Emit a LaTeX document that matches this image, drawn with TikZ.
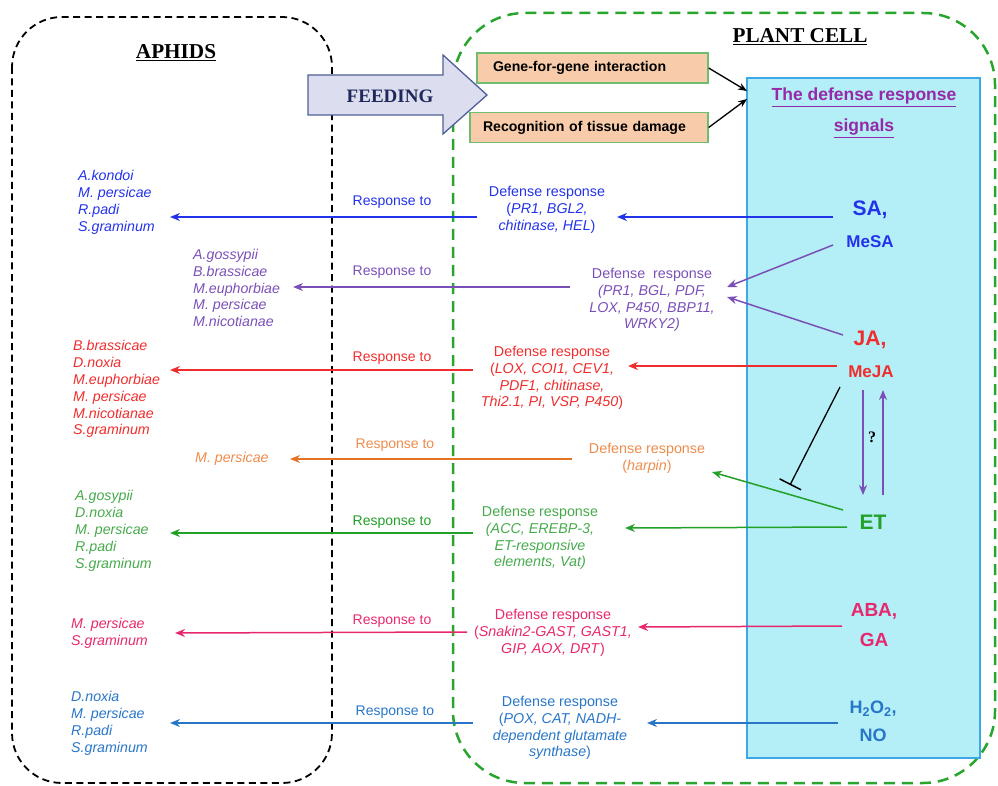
\documentclass[tikz,border=0pt]{standalone}
\usepackage{fontspec}
\setmainfont{Liberation Sans}
\newfontfamily\timesf{Liberation Serif}
\usetikzlibrary{arrows.meta}
\definecolor{cblue}{RGB}{35,50,235}
\definecolor{cpurple}{RGB}{122,80,184}
\definecolor{cred}{RGB}{240,45,45}
\definecolor{corange}{RGB}{228,115,35}
\definecolor{torange}{RGB}{238,140,75}
\definecolor{cgreen}{RGB}{35,160,40}
\definecolor{tgreen}{RGB}{70,170,75}
\definecolor{cpink}{RGB}{232,40,110}
\definecolor{cblueb}{RGB}{40,118,200}
\definecolor{cyanfill}{RGB}{180,238,246}
\definecolor{cyanline}{RGB}{60,168,230}
\definecolor{peach}{RGB}{248,204,170}
\definecolor{boxgreen}{RGB}{110,190,110}
\definecolor{dashgreen}{RGB}{40,165,45}
\definecolor{feedfill}{RGB}{220,222,240}
\definecolor{feedline}{RGB}{80,95,150}
\definecolor{feedtext}{RGB}{30,40,90}
\definecolor{hpurple}{RGB}{150,40,170}
\begin{document}
\begin{tikzpicture}[x=1pt,y=-1pt,
  sp/.style={font=\fontsize{14.2}{16.9}\selectfont\itshape, align=left, anchor=west, inner sep=0pt},
  rt/.style={font=\fontsize{14}{17}\selectfont, inner sep=0pt},
  dr/.style={font=\fontsize{14.3}{16.8}\selectfont, align=center, inner sep=0pt},
  sig/.style={font=\bfseries\fontsize{21}{25}\selectfont, inner sep=0pt},
  sigs/.style={font=\bfseries\fontsize{17}{20}\selectfont, inner sep=0pt},
  arr/.style={line width=1.5pt, -{Stealth[length=10pt,width=8pt]}},
  obox/.style={draw=boxgreen, line width=1.3pt, fill=peach, font=\bfseries\fontsize{14.1}{16}\selectfont, align=left, minimum height=30pt, inner ysep=0pt},
  title/.style={font=\timesf\bfseries\fontsize{21.2}{24}\selectfont}
]
\useasboundingbox (0,0) rectangle (998,786);
% containers
\draw[line width=1.8pt, dash pattern=on 7pt off 4.5pt, rounded corners=50pt] (12,17) rectangle (332,783);
\draw[dashgreen, line width=2.5pt, dash pattern=on 11pt off 7pt, rounded corners=72pt] (453,13) rectangle (995,783);
\node[draw=cyanline, line width=1.3pt, fill=cyanfill, minimum width=233pt, minimum height=680pt, inner sep=0pt] (sigbox) at (863.5,418) {};
% titles
\node[title] (aph) at (176,53) {\underline{APHIDS}};
\node[title] (plc) at (800,37) {\underline{PLANT CELL}};
% feeding arrow
\draw[feedline, fill=feedfill, line width=1.3pt] (308,75) -- (443,75) -- (443,55) -- (487,95) -- (443,134) -- (443,115) -- (308,115) -- cycle;
\node[font=\timesf\bfseries\fontsize{19}{22}\selectfont, text=feedtext] (feed) at (390,96) {FEEDING};
% orange boxes
\node[obox, text width=199pt, inner xsep=16pt] (gene) at (592.5,68) {Gene-for-gene interaction};
\node[obox, text width=212pt, inner xsep=13pt] (recog) at (589,127.5) {Recognition of tissue damage};
\coordinate (in1) at (747,91);
\coordinate (in2) at (747,99);
\draw[line width=1.3pt, -{Stealth[length=9pt,width=7pt]}] (gene.east) -- (in1);
\draw[line width=1.3pt, -{Stealth[length=9pt,width=7pt]}] (recog.east) -- (in2);
% heading in cyan box
\node[font=\bfseries\fontsize{17.5}{31}\selectfont, text=hpurple, align=center] (hd) at (864,113) {\underline{The defense response}\\\underline{signals}};
% signals
\node[sig, text=cblue] (sa) at (870,210) {SA,};
\node[sigs, text=cblue] (mesa) at (870,242) {MeSA};
\node[sig, text=cred] (ja) at (870,340) {JA,};
\node[sigs, text=cred] (meja) at (871,372) {MeJA};
\node[sig, text=cgreen] (et) at (873,522) {ET};
\node[font=\bfseries\fontsize{19}{30}\selectfont, text=cpink, align=center, inner sep=0pt] (aba) at (874,625) {ABA,\\GA};
\node[font=\bfseries\fontsize{18}{28}\selectfont, text=cblueb, align=center, inner sep=0pt] (h2o2) at (873,721) {H\textsubscript{2}O\textsubscript{2},\\NO};
\node[font=\timesf\bfseries\fontsize{16}{18}\selectfont, inner sep=0pt] (q) at (872,437) {?};
% species lists
\node[sp, text=cblue] (sp1) at (78,202.5) {A.kondoi\\M. persicae\\R.padi\\S.graminum};
\node[sp, text=cpurple] (sp2) at (193,288) {A.gossypii\\B.brassicae\\M.euphorbiae\\M. persicae\\M.nicotianae};
\node[sp, text=cred] (sp3) at (73,389) {B.brassicae\\D.noxia\\M.euphorbiae\\M. persicae\\M.nicotianae\\S.graminum};
\node[sp, text=torange] (sp4) at (195,459) {M. persicae};
\node[sp, text=tgreen] (sp5) at (75,531) {A.gosypii\\D.noxia\\M. persicae\\R.padi\\S.graminum};
\node[sp, text=cpink] (sp6) at (71,633.5) {M. persicae\\S.graminum};
\node[sp, text=cblueb] (sp7) at (71,723) {D.noxia\\M. persicae\\R.padi\\S.graminum};
% response to labels
\node[rt, text=cblue] (rt1) at (392,202) {Response to};
\node[rt, text=cpurple] (rt2) at (392,272) {Response to};
\node[rt, text=cred] (rt3) at (392,358) {Response to};
\node[rt, text=torange] (rt4) at (395,445) {Response to};
\node[rt, text=cgreen] (rt5) at (392,522) {Response to};
\node[rt, text=cpink] (rt6) at (392,621) {Response to};
\node[rt, text=cblueb] (rt7) at (395,712) {Response to};
% defense responses
\node[dr, text=cblue] (dr1) at (547,210) {Defense response\\(\textit{PR1, BGL2,}\\\textit{chitinase, HEL})};
\node[dr, text=cpurple] (dr2) at (652,300) {Defense\ \ response\\\textit{(PR1, BGL, PDF,}\\\textit{LOX, P450, BBP11,}\\\textit{WRKY2)}};
\node[dr, text=cred] (dr3) at (552,378) {Defense response\\(\textit{LOX, COI1, CEV1,}\\\textit{PDF1, chitinase,}\\\textit{Thi2.1, PI, VSP, P450})};
\node[dr, text=torange] (dr4) at (647,458.5) {Defense response\\(\textit{harpin})};
\node[dr, text=tgreen] (dr5) at (540,538) {Defense response\\\textit{(ACC, EREBP-3,}\\\textit{ET-responsive}\\\textit{elements, Vat)}};
\node[dr, text=cpink] (dr6) at (553,633) {Defense response\\(\textit{Snakin2-GAST, GAST1,}\\\textit{GIP, AOX, DRT})};
\node[dr, text=cblueb] (dr7) at (560,728) {Defense response\\(\textit{POX, CAT, NADH-}\\\textit{dependent glutamate}\\\textit{synthase})};
% connector coordinates
\coordinate (a1s) at (833,217); \coordinate (a1e) at (617,217);
\coordinate (l1s) at (477,217); \coordinate (l1e) at (170,217);
\coordinate (a2s) at (833,245); \coordinate (a2e) at (727,287);
\coordinate (a2t) at (843,335); \coordinate (a2f) at (727,297);
\coordinate (l2s) at (570,287); \coordinate (l2e) at (293,287);
\coordinate (a3s) at (837,366); \coordinate (a3e) at (628,366);
\coordinate (l3s) at (473,370); \coordinate (l3e) at (170,370);
\coordinate (l4s) at (572,459); \coordinate (l4e) at (290,459);
\coordinate (g4s) at (843,510); \coordinate (g4e) at (712,472);
\coordinate (ts) at (840,387); \coordinate (te) at (790,485);
\coordinate (vd1) at (863,390); \coordinate (vd2) at (863,495);
\coordinate (vu1) at (883,495); \coordinate (vu2) at (883,390);
\coordinate (a5s) at (847,527); \coordinate (a5e) at (625,528);
\coordinate (l5s) at (473,533); \coordinate (l5e) at (170,533);
\coordinate (a6s) at (842,626); \coordinate (a6e) at (638,627);
\coordinate (l6s) at (467,632); \coordinate (l6e) at (175,633);
\coordinate (a7s) at (838,723); \coordinate (a7e) at (647,723);
\coordinate (l7s) at (473,723); \coordinate (l7e) at (170,723);
% arrows
\draw[arr, cblue] (a1s) -- (a1e);
\draw[arr, cblue] (l1s) -- (l1e);
\draw[arr, cpurple] (a2s) -- (a2e);
\draw[arr, cpurple] (a2t) -- (a2f);
\draw[arr, cpurple] (l2s) -- (l2e);
\draw[arr, cred] (a3s) -- (a3e);
\draw[arr, cred] (l3s) -- (l3e);
\draw[arr, corange] (l4s) -- (l4e);
\draw[arr, cgreen] (g4s) -- (g4e);
\draw[line width=1.3pt, -{Bar[width=24pt,line width=1.5pt]}] (ts) -- (te);
\draw[arr, cpurple] (vd1) -- (vd2);
\draw[arr, cpurple] (vu1) -- (vu2);
\draw[arr, cgreen] (a5s) -- (a5e);
\draw[arr, cgreen] (l5s) -- (l5e);
\draw[arr, cpink] (a6s) -- (a6e);
\draw[arr, cpink] (l6s) -- (l6e);
\draw[arr, cblueb] (a7s) -- (a7e);
\draw[arr, cblueb] (l7s) -- (l7e);
\end{tikzpicture}
\end{document}
